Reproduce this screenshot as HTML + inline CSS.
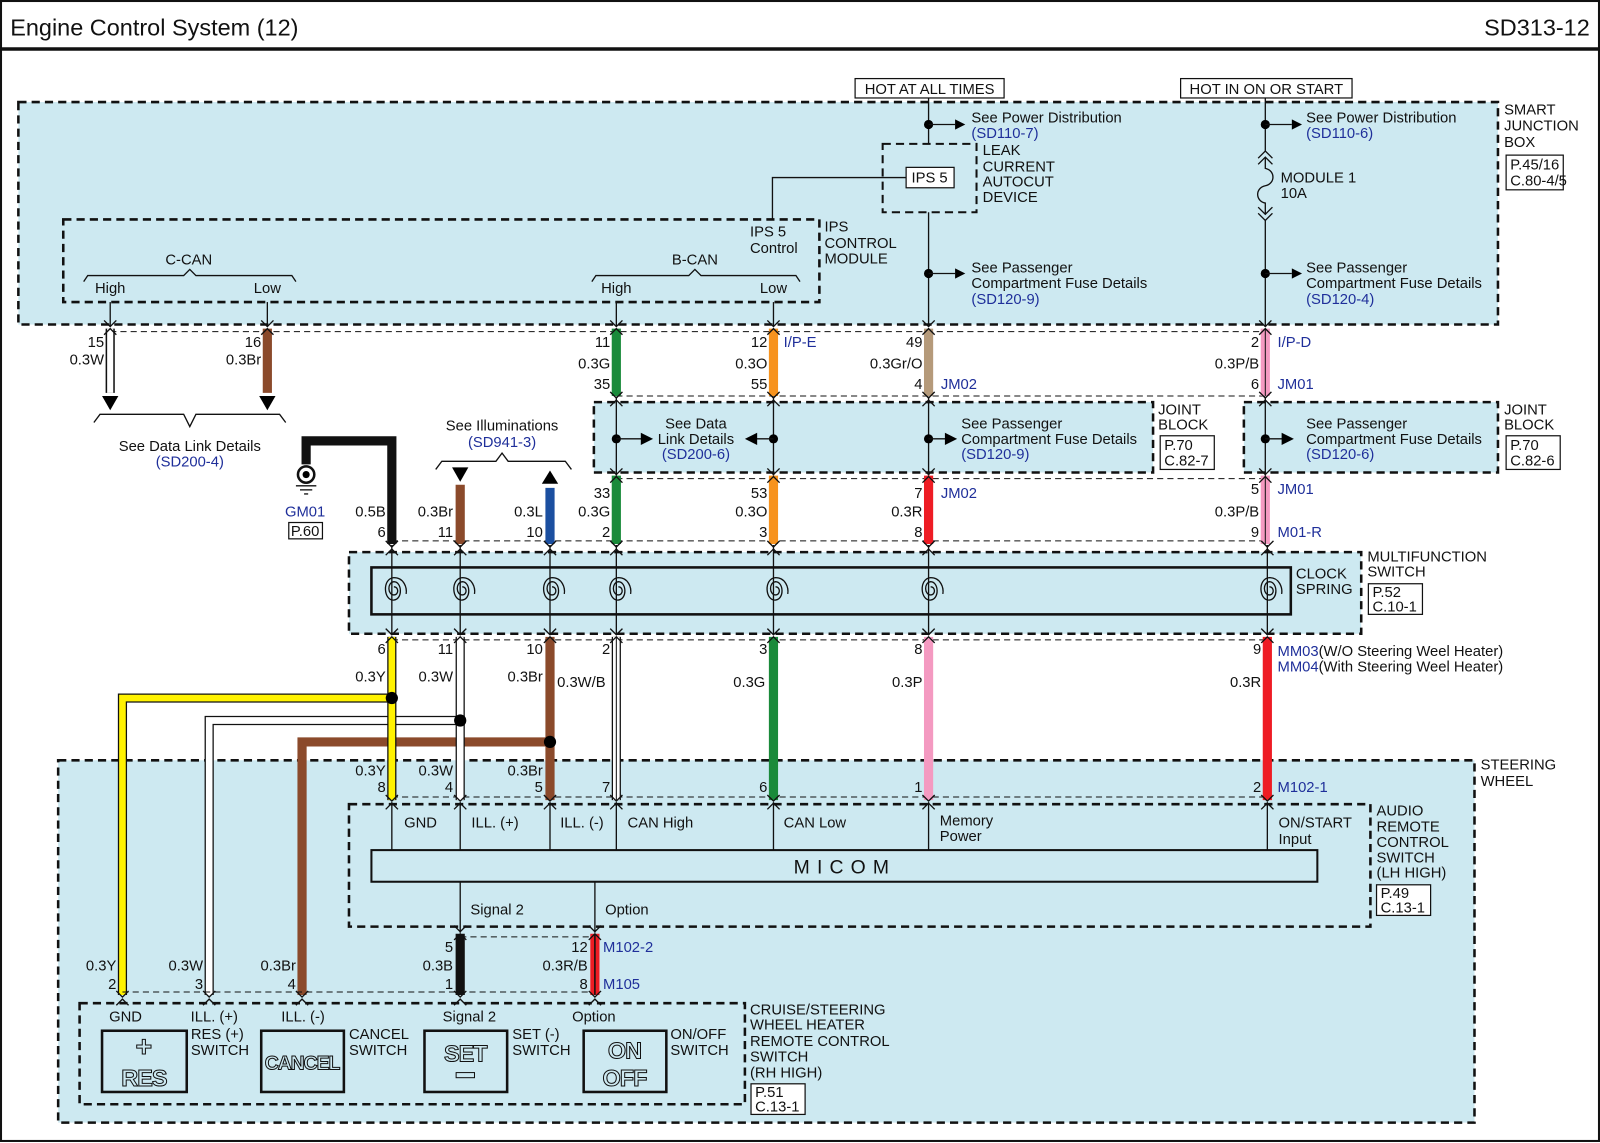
<!DOCTYPE html>
<html><head><meta charset="utf-8"><style>
html,body{margin:0;padding:0;background:#fff}
svg{display:block}
text{font-family:"Liberation Sans",sans-serif;font-size:14.5px;fill:#111}
.b{fill:#1f2f9a}
.e{text-anchor:end}
.m{text-anchor:middle}
.box{fill:#cde9f1;stroke:#111;stroke-width:2.5;stroke-dasharray:8 5}
.th{stroke:#111;stroke-width:1.3;fill:none}
.dl{stroke:#111;stroke-width:1;stroke-dasharray:6 4;fill:none}
.rb{fill:#fff;stroke:#111;stroke-width:1.2}
</style></head><body>
<svg width="1600" height="1143" viewBox="0 0 1568 1120" preserveAspectRatio="none" xmlns="http://www.w3.org/2000/svg">
<defs>
<g id="ch"><polyline points="-6,-7 0,-1 6,-7" class="th"/><polyline points="-6,7 0,1 6,7" class="th"/></g>
<g id="cs"><path d="M0,-3 C5,-3 5,5 0,5 C-6,5 -7,-7 0,-8 C8,-8 9,9 0,10 C-10,11 -12,-11 0,-12 C10,-12 13,-2 12,4" class="th"/></g>
</defs>
<rect x="1" y="1" width="1566" height="1117" fill="#fff" stroke="#111" stroke-width="2"/>
<line x1="0" y1="48" x2="1568" y2="48" stroke="#111" stroke-width="3.5"/>
<text x="10" y="35" style="font-size:23px">Engine Control System (12)</text>
<text x="1558" y="35" class="e" style="font-size:23px">SD313-12</text>

<rect x="18" y="100" width="1450" height="218" class="box"/>
<text x="1474" y="112">SMART</text><text x="1474" y="128">JUNCTION</text><text x="1474" y="144">BOX</text>
<rect x="1476" y="152" width="56" height="34" class="rb"/><text x="1480" y="166">P.45/16</text><text x="1480" y="182">C.80-4/5</text>
<rect x="838" y="77" width="146" height="19" class="rb"/><text x="911" y="92" class="m">HOT AT ALL TIMES</text>
<rect x="1157" y="77" width="168" height="19" class="rb"/><text x="1241" y="92" class="m">HOT IN ON OR START</text>
<line x1="910" y1="96" x2="910" y2="320" class="th"/>
<line x1="1240" y1="96" x2="1240" y2="148" class="th"/>
<line x1="1240" y1="215" x2="1240" y2="320" class="th"/>
<circle cx="910" cy="122" r="4.5"/><line x1="910" y1="122" x2="936" y2="122" class="th"/><polygon points="936,117 946,122 936,127"/>
<text x="952" y="120">See Power Distribution</text><text x="952" y="135" class="b">(SD110-7)</text>
<rect x="865" y="141" width="92" height="67" class="box" style="stroke-width:2"/>
<rect x="888" y="164" width="47" height="20" class="rb"/><text x="911" y="179" class="m">IPS 5</text>
<text x="963" y="152">LEAK</text><text x="963" y="168">CURRENT</text><text x="963" y="183">AUTOCUT</text><text x="963" y="198">DEVICE</text>
<polyline points="888,174 757,174 757,216" class="th"/>
<circle cx="910" cy="268" r="4.5"/><line x1="910" y1="268" x2="936" y2="268" class="th"/><polygon points="936,263 946,268 936,273"/>
<text x="952" y="267">See Passenger</text><text x="952" y="282">Compartment Fuse Details</text><text x="952" y="298" class="b">(SD120-9)</text>
<circle cx="1240" cy="122" r="4.5"/><line x1="1240" y1="122" x2="1266" y2="122" class="th"/><polygon points="1266,117 1276,122 1266,127"/>
<text x="1280" y="120">See Power Distribution</text><text x="1280" y="135" class="b">(SD110-6)</text>
<polyline points="1233,155 1240,148 1247,155" class="th"/><polyline points="1233,161 1240,154 1247,161" class="th"/>
<path d="M1240,154 L1240,165 C1250,167 1250,180 1240,182 C1230,184 1230,197 1240,199 L1240,210" class="th"/>
<polyline points="1233,203 1240,210 1247,203" class="th"/><polyline points="1233,209 1240,216 1247,209" class="th"/>
<text x="1255" y="179">MODULE 1</text><text x="1255" y="194">10A</text>
<circle cx="1240" cy="268" r="4.5"/><line x1="1240" y1="268" x2="1266" y2="268" class="th"/><polygon points="1266,263 1276,268 1266,273"/>
<text x="1280" y="267">See Passenger</text><text x="1280" y="282">Compartment Fuse Details</text><text x="1280" y="298" class="b">(SD120-4)</text>

<rect x="62" y="215" width="741" height="81" class="box" style="fill:none"/>
<text x="808" y="227">IPS</text><text x="808" y="243">CONTROL</text><text x="808" y="258">MODULE</text>
<text x="735" y="232">IPS 5</text><text x="735" y="248">Control</text>
<text x="185" y="259" class="m">C-CAN</text>
<polyline points="82,276 86,270 180,270 186,264 192,270 286,270 290,276" class="th"/>
<text x="108" y="287" class="m">High</text><text x="262" y="287" class="m">Low</text>
<text x="681" y="259" class="m">B-CAN</text>
<polyline points="580,276 584,270 675,270 681,264 687,270 780,270 784,276" class="th"/>
<text x="604" y="287" class="m">High</text><text x="758" y="287" class="m">Low</text>
<line x1="108" y1="296" x2="108" y2="320" class="th"/><line x1="262" y1="296" x2="262" y2="320" class="th"/>
<line x1="604" y1="296" x2="604" y2="320" class="th"/><line x1="758" y1="296" x2="758" y2="320" class="th"/>

<line x1="108" y1="325" x2="1240" y2="325" class="dl"/>
<line x1="604" y1="388" x2="1240" y2="388" class="dl"/>
<g stroke-linecap="butt">
<line x1="108" y1="322" x2="108" y2="385" stroke="#111" stroke-width="9"/><line x1="108" y1="322" x2="108" y2="385" stroke="#fff" stroke-width="6"/>
<line x1="262" y1="322" x2="262" y2="385" stroke="#8b4a2b" stroke-width="9"/>
<line x1="604" y1="322" x2="604" y2="388" stroke="#1a8a3a" stroke-width="9"/>
<line x1="758" y1="322" x2="758" y2="388" stroke="#f7931e" stroke-width="9"/>
<line x1="910" y1="322" x2="910" y2="388" stroke="#b59a7a" stroke-width="9"/>
<line x1="1240" y1="322" x2="1240" y2="388" stroke="#f49ac1" stroke-width="9"/>
<line x1="1240" y1="322" x2="1240" y2="388" stroke="#111" stroke-width="1"/>
</g>
<polygon points="100,388 116,388 108,402"/><polygon points="254,388 270,388 262,402"/>
<use href="#ch" x="108" y="321"/><use href="#ch" x="262" y="321"/><use href="#ch" x="604" y="321"/><use href="#ch" x="758" y="321"/><use href="#ch" x="910" y="321"/><use href="#ch" x="1240" y="321"/>
<text x="102" y="340" class="e">15</text><text x="102" y="357" class="e">0.3W</text>
<text x="256" y="340" class="e">16</text><text x="256" y="357" class="e">0.3Br</text>
<text x="598" y="340" class="e">11</text><text x="598" y="361" class="e">0.3G</text><text x="598" y="381" class="e">35</text>
<text x="752" y="340" class="e">12</text><text x="752" y="361" class="e">0.3O</text><text x="752" y="381" class="e">55</text><text x="768" y="340" class="b">I/P-E</text>
<text x="904" y="340" class="e">49</text><text x="904" y="361" class="e">0.3Gr/O</text><text x="904" y="381" class="e">4</text><text x="922" y="381" class="b">JM02</text>
<text x="1234" y="340" class="e">2</text><text x="1234" y="361" class="e">0.3P/B</text><text x="1234" y="381" class="e">6</text><text x="1252" y="340" class="b">I/P-D</text><text x="1252" y="381" class="b">JM01</text>
<polyline points="92,414 98,406 180,406 186,418 192,406 274,406 280,414" class="th"/>
<text x="186" y="442" class="m">See Data Link Details</text><text x="186" y="457" class="m b">(SD200-4)</text>

<rect x="582" y="394" width="548" height="69" class="box"/>
<text x="1135" y="406">JOINT</text><text x="1135" y="421">BLOCK</text>
<rect x="1137" y="427" width="53" height="33" class="rb"/><text x="1141" y="441">P.70</text><text x="1141" y="456">C.82-7</text>
<rect x="1219" y="394" width="249" height="69" class="box"/>
<text x="1474" y="406">JOINT</text><text x="1474" y="421">BLOCK</text>
<rect x="1476" y="427" width="53" height="33" class="rb"/><text x="1480" y="441">P.70</text><text x="1480" y="456">C.82-6</text>
<line x1="604" y1="390" x2="604" y2="466" class="th"/><line x1="758" y1="390" x2="758" y2="466" class="th"/><line x1="910" y1="390" x2="910" y2="466" class="th"/><line x1="1240" y1="390" x2="1240" y2="466" class="th"/>
<circle cx="604" cy="430" r="4.5"/><line x1="604" y1="430" x2="630" y2="430" class="th"/><polygon points="628,424 640,430 628,436"/>
<circle cx="758" cy="430" r="4.5"/><line x1="740" y1="430" x2="758" y2="430" class="th"/><polygon points="742,424 730,430 742,436"/>
<text x="682" y="420" class="m">See Data</text><text x="682" y="435" class="m">Link Details</text><text x="682" y="450" class="m b">(SD200-6)</text>
<circle cx="910" cy="430" r="4.5"/><line x1="910" y1="430" x2="928" y2="430" class="th"/><polygon points="926,424 938,430 926,436"/>
<text x="942" y="420">See Passenger</text><text x="942" y="435">Compartment Fuse Details</text><text x="942" y="450" class="b">(SD120-9)</text>
<circle cx="1240" cy="430" r="4.5"/><line x1="1240" y1="430" x2="1258" y2="430" class="th"/><polygon points="1256,424 1268,430 1256,436"/>
<text x="1280" y="420">See Passenger</text><text x="1280" y="435">Compartment Fuse Details</text><text x="1280" y="450" class="b">(SD120-6)</text>
<use href="#ch" x="604" y="391"/><use href="#ch" x="758" y="391"/><use href="#ch" x="910" y="391"/><use href="#ch" x="1240" y="391"/>

<line x1="604" y1="469" x2="1240" y2="469" class="dl"/>
<line x1="384" y1="530" x2="1240" y2="530" class="dl"/>
<line x1="604" y1="466" x2="604" y2="533" stroke="#1a8a3a" stroke-width="9"/>
<line x1="758" y1="466" x2="758" y2="533" stroke="#f7931e" stroke-width="9"/>
<line x1="910" y1="466" x2="910" y2="533" stroke="#ee1c24" stroke-width="9"/>
<line x1="1240" y1="466" x2="1240" y2="533" stroke="#f49ac1" stroke-width="9"/><line x1="1240" y1="466" x2="1240" y2="533" stroke="#111" stroke-width="1"/>
<use href="#ch" x="604" y="466"/><use href="#ch" x="758" y="466"/><use href="#ch" x="910" y="466"/><use href="#ch" x="1240" y="466"/>
<text x="598" y="488" class="e">33</text><text x="598" y="506" class="e">0.3G</text><text x="598" y="526" class="e">2</text>
<text x="752" y="488" class="e">53</text><text x="752" y="506" class="e">0.3O</text><text x="752" y="526" class="e">3</text>
<text x="904" y="488" class="e">7</text><text x="904" y="506" class="e">0.3R</text><text x="904" y="526" class="e">8</text><text x="922" y="488" class="b">JM02</text>
<text x="1234" y="484" class="e">5</text><text x="1234" y="506" class="e">0.3P/B</text><text x="1234" y="526" class="e">9</text><text x="1252" y="484" class="b">JM01</text><text x="1252" y="526" class="b">M01-R</text>
<polyline points="300,455 300,432 384,432 384,533" stroke="#111" stroke-width="9" fill="none"/>
<circle cx="300" cy="465" r="8" fill="#fff" stroke="#111" stroke-width="2.5"/><circle cx="300" cy="465" r="3.5"/>
<line x1="290" y1="476" x2="310" y2="476" class="th"/><line x1="294" y1="480" x2="306" y2="480" class="th"/><line x1="298" y1="484" x2="302" y2="484" class="th"/>
<text x="299" y="506" class="m b">GM01</text><rect x="283" y="512" width="33" height="16" class="rb"/><text x="299" y="525" class="m">P.60</text>
<line x1="451" y1="475" x2="451" y2="533" stroke="#8b4a2b" stroke-width="9"/>
<polygon points="443,458 459,458 451,472"/>
<line x1="539" y1="478" x2="539" y2="533" stroke="#1b4fa0" stroke-width="9"/>
<polygon points="531,474 547,474 539,461"/>
<polyline points="427,460 433,452 486,452 492,444 498,452 554,452 560,460" class="th"/>
<text x="492" y="422" class="m">See Illuminations</text><text x="492" y="438" class="m b">(SD941-3)</text>
<text x="378" y="506" class="e">0.5B</text><text x="378" y="526" class="e">6</text>
<text x="444" y="506" class="e">0.3Br</text><text x="444" y="526" class="e">11</text>
<text x="532" y="506" class="e">0.3L</text><text x="532" y="526" class="e">10</text>

<rect x="342" y="541" width="992" height="80" class="box"/>
<rect x="364" y="556" width="901" height="46" fill="none" stroke="#111" stroke-width="2.5"/>
<text x="1270" y="567">CLOCK</text><text x="1270" y="582">SPRING</text>
<text x="1340" y="550">MULTIFUNCTION</text><text x="1340" y="565">SWITCH</text>
<rect x="1341" y="572" width="53" height="30" class="rb"/><text x="1345" y="585">P.52</text><text x="1345" y="599">C.10-1</text>
<g>
<line x1="384" y1="534" x2="384" y2="622" class="th"/><line x1="451" y1="534" x2="451" y2="622" class="th"/><line x1="539" y1="534" x2="539" y2="622" class="th"/><line x1="604" y1="534" x2="604" y2="622" class="th"/><line x1="758" y1="534" x2="758" y2="622" class="th"/><line x1="910" y1="534" x2="910" y2="622" class="th"/><line x1="1242" y1="534" x2="1242" y2="622" class="th"/>
</g>
<use href="#cs" x="386" y="578"/><use href="#cs" x="453" y="578"/><use href="#cs" x="541" y="578"/><use href="#cs" x="606" y="578"/><use href="#cs" x="760" y="578"/><use href="#cs" x="912" y="578"/><use href="#cs" x="1244" y="578"/>
<use href="#ch" x="384" y="537"/><use href="#ch" x="451" y="537"/><use href="#ch" x="539" y="537"/><use href="#ch" x="604" y="537"/><use href="#ch" x="758" y="537"/><use href="#ch" x="910" y="537"/><use href="#ch" x="1242" y="537"/>

<rect x="57" y="745" width="1388" height="355" class="box"/>
<text x="1451" y="754">STEERING</text><text x="1451" y="770">WHEEL</text>

<line x1="384" y1="627" x2="1242" y2="627" class="dl"/>
<line x1="384" y1="781" x2="1242" y2="781" class="dl"/>
<polyline points="384,684 120,684 120,975" stroke="#111" stroke-width="9" fill="none"/>
<polyline points="384,684 120,684 120,975" stroke="#fff200" stroke-width="6.5" fill="none"/>
<polyline points="451,706 205,706 205,975" stroke="#111" stroke-width="9" fill="none"/>
<polyline points="451,706 205,706 205,975" stroke="#fff" stroke-width="6.5" fill="none"/>
<polyline points="539,727 296,727 296,975" stroke="#8b4a2b" stroke-width="9" fill="none"/>
<line x1="384" y1="624" x2="384" y2="784" stroke="#111" stroke-width="9"/><line x1="384" y1="624" x2="384" y2="784" stroke="#fff200" stroke-width="6.5"/>
<line x1="451" y1="624" x2="451" y2="784" stroke="#111" stroke-width="9"/><line x1="451" y1="624" x2="451" y2="784" stroke="#fff" stroke-width="6.5"/>
<line x1="539" y1="624" x2="539" y2="784" stroke="#8b4a2b" stroke-width="9"/>
<line x1="604" y1="624" x2="604" y2="784" stroke="#111" stroke-width="9"/><line x1="604" y1="624" x2="604" y2="784" stroke="#fff" stroke-width="6.5"/><line x1="604" y1="624" x2="604" y2="784" stroke="#111" stroke-width="1"/>
<line x1="758" y1="624" x2="758" y2="784" stroke="#1a8a3a" stroke-width="9"/>
<line x1="910" y1="624" x2="910" y2="784" stroke="#f49ac1" stroke-width="9"/>
<line x1="1242" y1="624" x2="1242" y2="784" stroke="#ee1c24" stroke-width="9"/>
<circle cx="384" cy="684" r="6"/><circle cx="451" cy="706" r="6"/><circle cx="539" cy="727" r="6"/>
<use href="#ch" x="384" y="623"/><use href="#ch" x="451" y="623"/><use href="#ch" x="539" y="623"/><use href="#ch" x="604" y="623"/><use href="#ch" x="758" y="623"/><use href="#ch" x="910" y="623"/><use href="#ch" x="1242" y="623"/>
<text x="378" y="641" class="e">6</text><text x="378" y="668" class="e">0.3Y</text>
<text x="444" y="641" class="e">11</text><text x="444" y="668" class="e">0.3W</text>
<text x="532" y="641" class="e">10</text><text x="532" y="668" class="e">0.3Br</text>
<text x="598" y="641" class="e">2</text><text x="546" y="673">0.3W/B</text>
<text x="752" y="641" class="e">3</text><text x="750" y="673" class="e">0.3G</text>
<text x="904" y="641" class="e">8</text><text x="904" y="673" class="e">0.3P</text>
<text x="1236" y="641" class="e">9</text><text x="1236" y="673" class="e">0.3R</text>
<text x="1252" y="643"><tspan class="b">MM03</tspan>(W/O Steering Weel Heater)</text>
<text x="1252" y="658"><tspan class="b">MM04</tspan>(With Steering Weel Heater)</text>
<text x="378" y="760" class="e">0.3Y</text><text x="378" y="776" class="e">8</text>
<text x="444" y="760" class="e">0.3W</text><text x="444" y="776" class="e">4</text>
<text x="532" y="760" class="e">0.3Br</text><text x="532" y="776" class="e">5</text>
<text x="598" y="776" class="e">7</text><text x="752" y="776" class="e">6</text><text x="904" y="776" class="e">1</text><text x="1236" y="776" class="e">2</text>
<text x="1252" y="776" class="b">M102-1</text>

<rect x="342" y="788" width="1001" height="120" class="box" style="fill:none"/>
<text x="1349" y="799">AUDIO</text><text x="1349" y="815">REMOTE</text><text x="1349" y="830">CONTROL</text><text x="1349" y="845">SWITCH</text><text x="1349" y="860">(LH HIGH)</text>
<rect x="1349" y="867" width="53" height="30" class="rb"/><text x="1353" y="880">P.49</text><text x="1353" y="894">C.13-1</text>
<g>
<line x1="384" y1="786" x2="384" y2="833" class="th"/><line x1="451" y1="786" x2="451" y2="833" class="th"/><line x1="539" y1="786" x2="539" y2="833" class="th"/><line x1="604" y1="786" x2="604" y2="833" class="th"/><line x1="758" y1="786" x2="758" y2="833" class="th"/><line x1="910" y1="786" x2="910" y2="833" class="th"/><line x1="1242" y1="786" x2="1242" y2="833" class="th"/>
</g>
<use href="#ch" x="384" y="786"/><use href="#ch" x="451" y="786"/><use href="#ch" x="539" y="786"/><use href="#ch" x="604" y="786"/><use href="#ch" x="758" y="786"/><use href="#ch" x="910" y="786"/><use href="#ch" x="1242" y="786"/>
<text x="396" y="811">GND</text><text x="462" y="811">ILL. (+)</text><text x="549" y="811">ILL. (-)</text><text x="615" y="811">CAN High</text><text x="768" y="811">CAN Low</text>
<text x="921" y="809">Memory</text><text x="921" y="824">Power</text>
<text x="1253" y="811">ON/START</text><text x="1253" y="827">Input</text>
<rect x="364" y="833" width="927" height="31" fill="#cde9f1" stroke="#111" stroke-width="2"/>
<text x="828" y="856" class="m" style="font-size:19px;letter-spacing:7px">MICOM</text>
<line x1="451" y1="864" x2="451" y2="914" class="th"/><line x1="583" y1="864" x2="583" y2="914" class="th"/>
<text x="461" y="896">Signal 2</text><text x="593" y="896">Option</text>

<line x1="451" y1="918" x2="583" y2="918" class="dl"/>
<line x1="120" y1="972" x2="583" y2="972" class="dl"/>
<line x1="451" y1="915" x2="451" y2="975" stroke="#111" stroke-width="9"/>
<line x1="583" y1="915" x2="583" y2="975" stroke="#ee1c24" stroke-width="9"/><line x1="583" y1="915" x2="583" y2="975" stroke="#111" stroke-width="1.5"/>
<use href="#ch" x="451" y="914"/><use href="#ch" x="583" y="914"/>
<text x="444" y="933" class="e">5</text><text x="444" y="951" class="e">0.3B</text><text x="444" y="969" class="e">1</text>
<text x="576" y="933" class="e">12</text><text x="576" y="951" class="e">0.3R/B</text><text x="576" y="969" class="e">8</text>
<text x="591" y="933" class="b">M102-2</text><text x="591" y="969" class="b">M105</text>
<text x="114" y="951" class="e">0.3Y</text><text x="114" y="969" class="e">2</text>
<text x="199" y="951" class="e">0.3W</text><text x="199" y="969" class="e">3</text>
<text x="290" y="951" class="e">0.3Br</text><text x="290" y="969" class="e">4</text>
<use href="#ch" x="120" y="978"/><use href="#ch" x="205" y="978"/><use href="#ch" x="296" y="978"/><use href="#ch" x="451" y="978"/><use href="#ch" x="583" y="978"/>

<rect x="78" y="983" width="652" height="99" class="box" style="fill:none"/>
<text x="735" y="994">CRUISE/STEERING</text><text x="735" y="1009">WHEEL HEATER</text><text x="735" y="1025">REMOTE CONTROL</text><text x="735" y="1040">SWITCH</text><text x="735" y="1056">(RH HIGH)</text>
<rect x="736" y="1062" width="53" height="30" class="rb"/><text x="740" y="1075">P.51</text><text x="740" y="1089">C.13-1</text>
<text x="123" y="1001" class="m">GND</text><text x="210" y="1001" class="m">ILL. (+)</text><text x="297" y="1001" class="m">ILL. (-)</text><text x="460" y="1001" class="m">Signal 2</text><text x="582" y="1001" class="m">Option</text>
<g fill="none" stroke="#111" stroke-width="2.5">
<rect x="100" y="1010" width="83" height="60"/><rect x="256" y="1010" width="81" height="60"/><rect x="416" y="1010" width="81" height="60"/><rect x="572" y="1010" width="81" height="60"/>
</g>
<g style="font-weight:bold;stroke:#111;stroke-width:1">
<text x="141" y="1035" class="m" style="font-size:28px;fill:#cde9f1">+</text>
<text x="141" y="1064" class="m" style="font-size:23px;fill:#cde9f1;letter-spacing:-1px">RES</text>
<text x="296" y="1048" class="m" style="font-size:19px;fill:#cde9f1;letter-spacing:-1px">CANCEL</text>
<text x="456" y="1040" class="m" style="font-size:23px;fill:#cde9f1;letter-spacing:-1px">SET</text>
<text x="612" y="1037" class="m" style="font-size:23px;fill:#cde9f1;letter-spacing:-1px">ON</text>
<text x="612" y="1064" class="m" style="font-size:23px;fill:#cde9f1;letter-spacing:-1px">OFF</text>
</g>
<rect x="447" y="1051" width="18" height="5" fill="#cde9f1" stroke="#111" stroke-width="1"/>
<text x="187" y="1018">RES (+)</text><text x="187" y="1034">SWITCH</text>
<text x="342" y="1018">CANCEL</text><text x="342" y="1034">SWITCH</text>
<text x="502" y="1018">SET (-)</text><text x="502" y="1034">SWITCH</text>
<text x="657" y="1018">ON/OFF</text><text x="657" y="1034">SWITCH</text>
</svg>
</body></html>
